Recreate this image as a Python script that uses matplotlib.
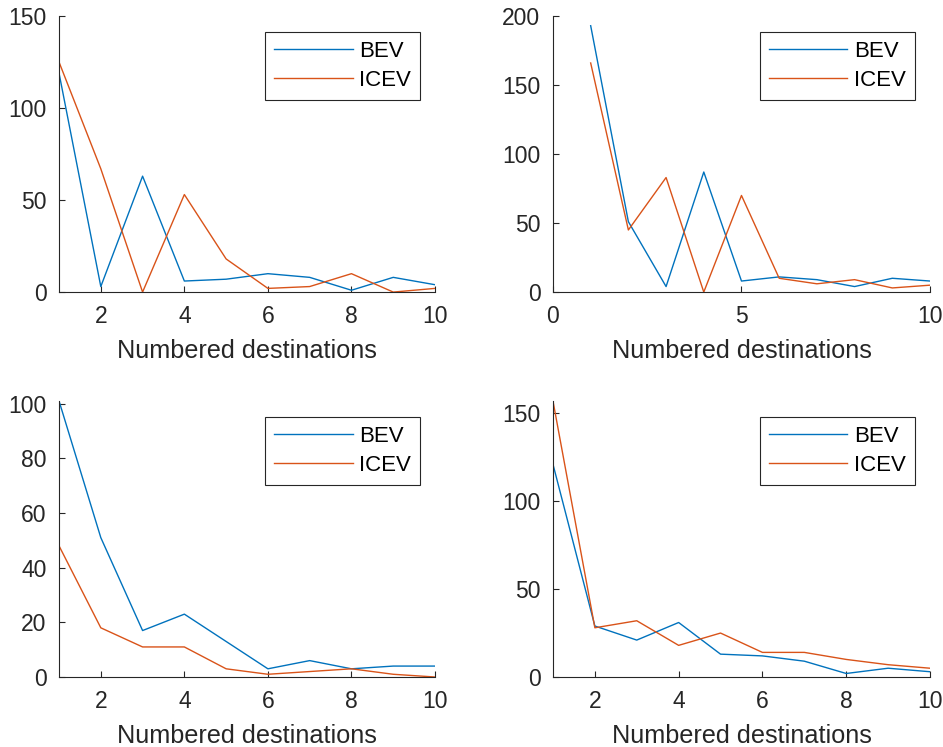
import matplotlib
matplotlib.use("Agg")
import matplotlib.pyplot as plt

plt.rcParams['font.family'] = ['Liberation Sans', 'DejaVu Sans']

destinos = [1, 2, 3, 4, 5, 6, 7, 8, 9, 10]

bev_1 = [119, 3, 63, 6, 7, 10, 8, 1, 8, 4]
icev_1 = [125, 67, 0, 53, 18, 2, 3, 10, 0, 2]

bev_2 = [193, 51, 4, 87, 8, 11, 9, 4, 10, 8]
icev_2 = [166, 45, 83, 0, 70, 10, 6, 9, 3, 5]

bev_3 = [101, 51, 17, 23, 13, 3, 6, 3, 4, 4]
icev_3 = [48, 18, 11, 11, 3, 1, 2, 3, 1, 0]

bev_4 = [121, 29, 21, 31, 13, 12, 9, 2, 5, 3]
icev_4 = [157, 28, 32, 18, 25, 14, 14, 10, 7, 5]

AZUL = '#0072BD'
NARANJA = '#D95319'
GRIS = '#262626'

fig = plt.figure(figsize=(9.43, 7.47), dpi=100)

# posiciones de los 4 subplots (fracciones de la figura)
posiciones = [
    [0.0626, 0.609, 0.3987, 0.3695],
    [0.5864, 0.609, 0.3998, 0.3695],
    [0.0626, 0.0937, 0.3987, 0.3695],
    [0.5864, 0.0937, 0.3998, 0.3695],
]

paneles = [
    (bev_1, icev_1, (1, 10), [2, 4, 6, 8, 10], (0, 150), [0, 50, 100, 150]),
    (bev_2, icev_2, (0, 10), [0, 5, 10], (0, 200), [0, 50, 100, 150, 200]),
    (bev_3, icev_3, (1, 10), [2, 4, 6, 8, 10], (0, 101), [0, 20, 40, 60, 80, 100]),
    (bev_4, icev_4, (1, 10), [2, 4, 6, 8, 10], (0, 157), [0, 50, 100, 150]),
]

for pos, (bev, icev, xl, xt, yl, yt) in zip(posiciones, paneles):
    ax = fig.add_axes(pos)
    ax.plot(destinos, bev, color=AZUL, lw=1.0, label='BEV')
    ax.plot(destinos, icev, color=NARANJA, lw=1.0, label='ICEV')
    ax.set_xlim(*xl)
    ax.set_ylim(*yl)
    ax.set_xticks(xt)
    ax.set_yticks(yt)
    ax.set_xlabel('Numbered destinations', fontsize=18.2, color=GRIS, labelpad=8.5)
    ax.spines['top'].set_visible(False)
    ax.spines['right'].set_visible(False)
    for s in ['left', 'bottom']:
        ax.spines[s].set_color(GRIS)
        ax.spines[s].set_linewidth(0.8)
    ax.tick_params(direction='in', length=4, width=0.8, color=GRIS,
                   labelcolor=GRIS, labelsize=16.5, pad=9)
    leg = ax.legend(loc='upper right', bbox_to_anchor=(0.96, 0.942), borderaxespad=0,
                    fontsize=16, handlelength=3.55, handletextpad=0.3, borderpad=0.4,
                    labelspacing=0.36, fancybox=False, framealpha=1)
    leg.get_frame().set_edgecolor(GRIS)
    leg.get_frame().set_linewidth(0.8)

fig.savefig('out.png', dpi=100)
